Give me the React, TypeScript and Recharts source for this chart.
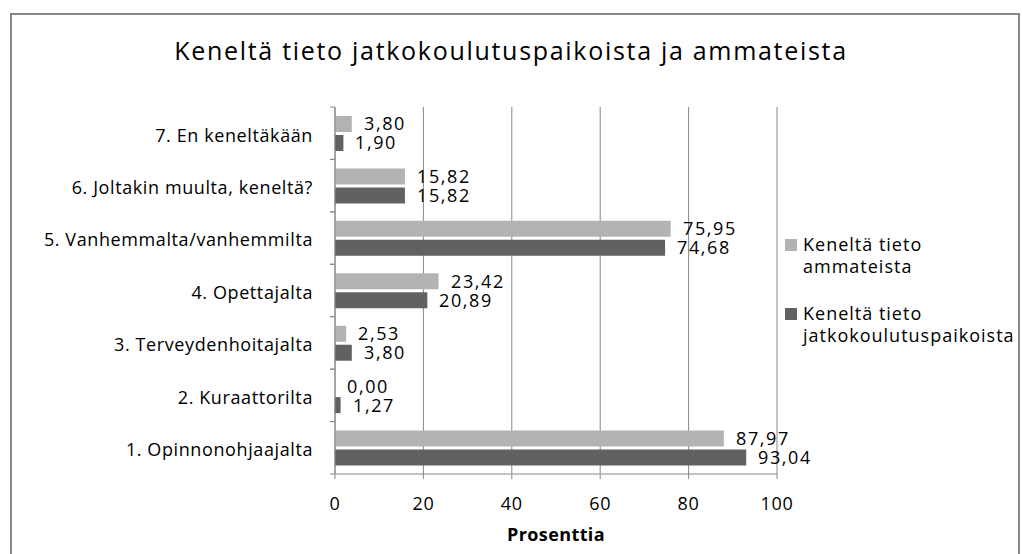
import React from 'react';
import { BarChart, Bar, XAxis, YAxis, CartesianGrid, LabelList, Legend } from 'recharts';

const CATEGORIES = [
  '1. Opinnonohjaajalta',
  '2. Kuraattorilta',
  '3. Terveydenhoitajalta',
  '4. Opettajalta',
  '5. Vanhemmalta/vanhemmilta',
  '6. Joltakin muulta, keneltä?',
  '7. En keneltäkään',
];
const AMMATEISTA = [87.97, 0.0, 2.53, 23.42, 75.95, 15.82, 3.8];
const JATKO = [93.04, 1.27, 3.8, 20.89, 74.68, 15.82, 1.9];
const X_TICKS = [0, 20, 40, 60, 80, 100];
const SERIES_NAMES = ['Keneltä tieto ammateista', 'Keneltä tieto jatkokoulutuspaikoista'];
const TITLE = 'Keneltä tieto jatkokoulutuspaikoista ja ammateista';
const X_LABEL = 'Prosenttia';

const COLORS = ['#b3b3b3', '#616161'];
const FONT = '"Open Sans", sans-serif';
const GRID = '#878787';

const W = 1022;
const H = 554;
const M_TOP = 107;
const M_RIGHT = 245;
const X_AXIS_H = 80;
const Y_AXIS_W = 335;
const Y_TICK_SIZE = 5;
const Y_TICK_MARGIN = 17;
const BAND_HALF = (H - M_TOP - X_AXIS_H) / CATEGORIES.length / 2;

const data = CATEGORIES.map((name, i) => ({
  name,
  ammateista: AMMATEISTA[i],
  jatko: JATKO[i],
}));

const fmt = (v: any) => Number(v).toFixed(2).replace('.', ',');

const CategoryTick = (props: any) => {
  const { x, y, payload } = props;
  const half = payload && payload.offset ? payload.offset : BAND_HALF;
  const axisX = x + Y_TICK_MARGIN + Y_TICK_SIZE;
  return (
    <g>
      <line x1={axisX - Y_TICK_SIZE} x2={axisX} y1={y - half} y2={y - half} stroke={GRID} />
      <line x1={axisX - Y_TICK_SIZE} x2={axisX} y1={y + half} y2={y + half} stroke={GRID} />
      <text
        x={x}
        y={y + 2}
        dy="0.355em"
        textAnchor="end"
        fontSize={18}
        fontFamily={FONT}
        letterSpacing={0.6}
        fill="#000"
      >
        {payload.value}
      </text>
    </g>
  );
};

const ValueLabel = (props: any) => {
  const vb = props.viewBox || props;
  const x = Number(vb.x) + Math.max(0, Math.round(Number(vb.width || 0))) + 12;
  const y = Number(vb.y) + Number(vb.height || 0) / 2;
  let v = props.value;
  if (Array.isArray(v)) v = v[v.length - 1];
  if (!isFinite(x) || !isFinite(y)) return null;
  return (
    <text
      x={x}
      y={y}
      dy="0.355em"
      textAnchor="start"
      fontSize={18}
      fontFamily={FONT}
      letterSpacing={1.6}
      fill="#000"
    >
      {fmt(v)}
    </text>
  );
};

const LegendContent = (props: any) => {
  const payload = props.payload || [];
  return (
    <div
      style={{
        fontFamily: FONT,
        fontSize: 18,
        lineHeight: '22px',
        color: '#000',
        letterSpacing: 1,
      }}
    >
      {payload.map((e: any, i: number) => (
        <div
          key={i}
          style={{ display: 'flex', alignItems: 'flex-start', marginBottom: i === 0 ? 25 : 0 }}
        >
          <span
            style={{
              width: 12,
              height: 12,
              background: e.color,
              marginTop: 6,
              marginRight: 6,
              flex: 'none',
            }}
          />
          <span style={{ width: 160, textAlign: 'left' }}>{e.value}</span>
        </div>
      ))}
    </div>
  );
};

export default function App() {
  return (
    <div
      style={{
        position: 'absolute',
        left: 0,
        top: 0,
        width: W,
        height: H,
        overflow: 'hidden',
        background: '#fff',
        fontFamily: FONT,
      }}
    >
      <div
        style={{
          position: 'absolute',
          left: 10,
          top: 13,
          width: 1010,
          height: 620,
          boxSizing: 'border-box',
          border: '2px solid #878787',
        }}
      />
      <div
        style={{
          position: 'absolute',
          left: 0,
          top: 38,
          width: W,
          textAlign: 'center',
          fontSize: 25,
          lineHeight: '25px',
          letterSpacing: 1.7,
          color: '#000',
          fontFamily: FONT,
          whiteSpace: 'nowrap',
        }}
      >
        {TITLE}
      </div>
      <div style={{ position: 'absolute', left: 0, top: 0 }}>
        <BarChart
          width={W}
          height={H}
          data={data}
          layout="vertical"
          margin={{ top: M_TOP, right: M_RIGHT, bottom: 0, left: 0 }}
          barSize={16}
          barGap={3}
        >
          <CartesianGrid horizontal={false} stroke={GRID} />
          <XAxis
            type="number"
            domain={[0, 100]}
            ticks={X_TICKS}
            height={X_AXIS_H}
            tickSize={5}
            tickMargin={18}
            stroke={GRID}
            tick={{ fontSize: 18, fill: '#000', fontFamily: FONT, letterSpacing: 0.7 }}
            label={{
              value: X_LABEL,
              position: 'insideBottom',
              offset: 13,
              fontSize: 18,
              fontWeight: 'bold',
              fill: '#000',
              fontFamily: FONT,
              letterSpacing: 0.4,
            }}
          />
          <YAxis
            type="category"
            dataKey="name"
            width={Y_AXIS_W}
            reversed
            tickSize={Y_TICK_SIZE}
            tickMargin={Y_TICK_MARGIN}
            tickLine={false}
            stroke={GRID}
            tick={<CategoryTick />}
            interval={0}
          />
          <Legend
            layout="vertical"
            align="center"
            verticalAlign="middle"
            wrapperStyle={{ left: 785, top: 233, width: 237 }}
            content={<LegendContent />}
          />
          <Bar
            dataKey="ammateista"
            name={SERIES_NAMES[0]}
            fill={COLORS[0]}
            minPointSize={0.01}
            isAnimationActive={false}
          >
            <LabelList dataKey="ammateista" content={<ValueLabel />} />
          </Bar>
          <Bar
            dataKey="jatko"
            name={SERIES_NAMES[1]}
            fill={COLORS[1]}
            minPointSize={0.01}
            isAnimationActive={false}
          >
            <LabelList dataKey="jatko" content={<ValueLabel />} />
          </Bar>
        </BarChart>
      </div>
    </div>
  );
}
